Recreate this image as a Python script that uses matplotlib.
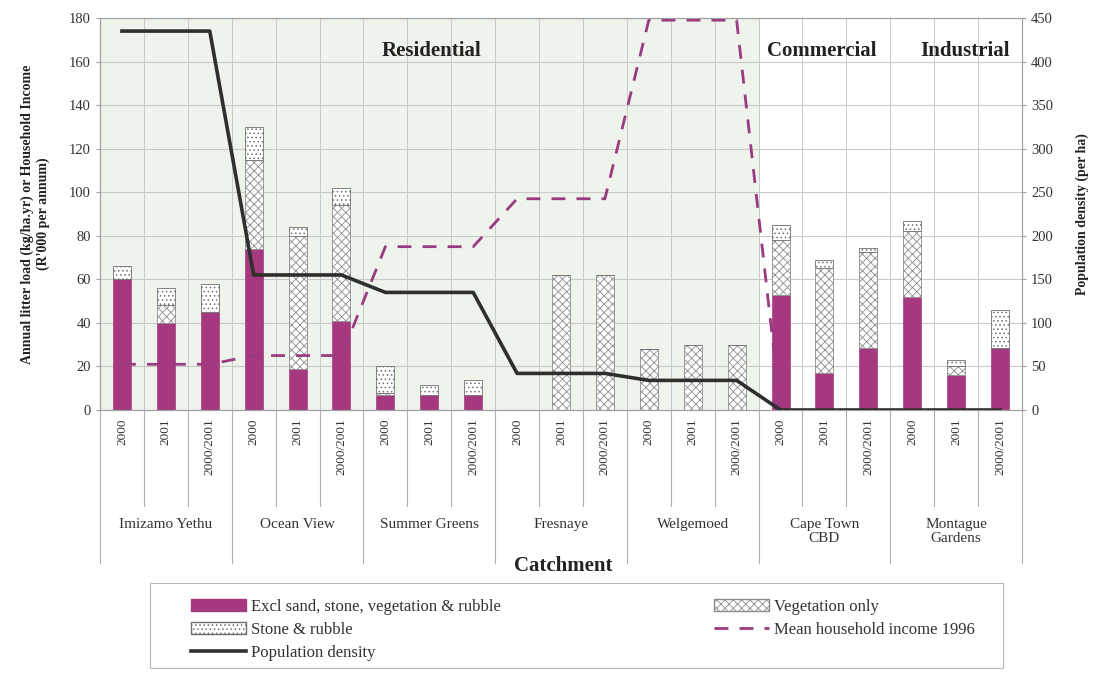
#!/usr/bin/env python3
# -*- coding: utf-8 -*-
"""
Carga anual de basura por cuenca (kg/ha.yr), ingreso medio y densidad de población.
Gráfico de barras apiladas con eje categórico de dos niveles (año / cuenca).
"""

import numpy as np
import matplotlib
matplotlib.use("Agg")
import matplotlib.pyplot as plt
from matplotlib.lines import Line2D
from matplotlib.patches import Patch, Rectangle

plt.rcParams.update({
    "font.family": ["Liberation Serif", "DejaVu Serif"],
    "font.size": 10.5,
    "hatch.linewidth": 0.6,
})

# =============================================================================
# DATOS
# =============================================================================
catchments = ["Imizamo Yethu", "Ocean View", "Summer Greens", "Fresnaye",
              "Welgemoed", "Cape Town\nCBD", "Montague\nGardens"]
years = ["2000", "2001", "2000/2001"]

excl = [60, 40, 45, 74, 19, 41, 7, 7, 7, 0, 0, 0, 0, 0, 0,
        53, 17, 28.5, 52, 16, 28.5]
vegetation = [0, 8, 0, 41, 61, 53, 1, 0, 0, 0, 62, 62, 28, 30, 30,
              25, 48, 44, 30, 4, 0]
stone = [6, 8, 13, 15, 4, 8, 12, 4.5, 7, 0, 0, 0, 0, 0, 0,
         7, 4, 2, 5, 3, 17.5]
income_1996 = [21, 21, 21, 25, 25, 25, 75, 75, 75, 97, 97, 97, 179, 179, 179,
               0, np.nan, np.nan, np.nan, np.nan, np.nan]
pop_density = [435, 435, 435, 155, 155, 155, 135, 135, 135, 42, 42, 42,
               34, 34, 34, 0, 0, 0, 0, 0, 0]

# =============================================================================
# ESTILO
# =============================================================================
MAGENTA = "#a6387f"
GRID = "#c9c9c9"
HATCH_GREY = "#8c8c8c"

fig = plt.figure(figsize=(10.96, 6.73), dpi=100)
ax = fig.add_axes([100 / 1096, 1 - 410 / 673, 922 / 1096, 392 / 673])
ax2 = ax.twinx()

n = len(excl)
x = np.arange(n)
excl = np.array(excl)
vegetation = np.array(vegetation)
stone = np.array(stone)

# fondo zona residencial
ax.axvspan(-0.5, 14.5, color="#eef3eb", zorder=-2, lw=0)

# rejilla
for yv in range(20, 181, 20):
    ax.axhline(yv, color=GRID, lw=0.8, zorder=0)
for b in np.arange(0.5, n - 0.5, 1.0):
    ax.axvline(b, color=GRID, lw=0.7, zorder=0)

w = 0.41
ax.bar(x, excl, w, color=MAGENTA, edgecolor=MAGENTA, lw=0.5, zorder=2)
ax.bar(x, vegetation, w, bottom=excl, facecolor="white", edgecolor=HATCH_GREY,
       hatch="xxxx", lw=0.6, zorder=2)
ax.bar(x, stone, w, bottom=excl + vegetation, facecolor="white",
       edgecolor="#6f6f6f", hatch="....", lw=0.6, zorder=2)

ax.plot(x, income_1996, color="#9a3a80", lw=2, dashes=(5, 4), zorder=3)
ax2.plot(x, pop_density, color="#2f2f2f", lw=2.6, zorder=4)

ax.set_xlim(-0.5, n - 0.5)
ax.set_ylim(0, 180)
ax.set_yticks(range(0, 181, 20))
ax2.set_ylim(0, 450)
ax2.set_yticks(range(0, 451, 50))

for a in (ax, ax2):
    for s in a.spines.values():
        s.set_color("#a0a0a0")
        s.set_linewidth(0.8)
    a.tick_params(axis="y", length=3, color="#a0a0a0", labelsize=10.5,
                  labelcolor="#333333")

# eje x de dos niveles
ax.set_xticks(x)
ax.set_xticklabels(years * len(catchments), rotation=90, fontsize=9.5,
                   color="#333333", va="top")
ax.tick_params(axis="x", length=0, pad=6)

trans = ax.get_xaxis_transform()
for i in range(n + 1):
    b = i - 0.5
    y_end = -0.39 if i % 3 == 0 else -0.245
    ax.add_line(Line2D([b, b], [0, y_end], transform=trans, color="#b0b0b0",
                       lw=0.8, clip_on=False))
for k, name in enumerate(catchments):
    ax.text(3 * k + 1, -0.275, name, transform=trans, ha="center", va="top",
            fontsize=11, color="#333333", linespacing=1.1)

fig.text(563 / 1096, 1 - 566 / 673, "Catchment", ha="center", va="center",
         fontsize=15, fontweight="bold", color="#222222")

# etiquetas de zona
ax.text(7.05, 165, "Residential", ha="center", va="center", fontsize=15,
        fontweight="bold", color="#222222", zorder=5)
ax.text(15.95, 165, "Commercial", ha="center", va="center", fontsize=15,
        fontweight="bold", color="#222222", zorder=5)
ax.text(19.2, 165, "Industrial", ha="center", va="center", fontsize=15,
        fontweight="bold", color="#222222", zorder=5)

ax.set_ylabel("Annual litter load (kg/ha.yr) or Household Income\n(R'000 per annum)",
              fontsize=10, fontweight="bold", color="#222222", labelpad=14)
ax2.set_ylabel("Population density (per ha)", fontsize=10, fontweight="bold",
               color="#222222", labelpad=16)

# leyenda
fig.patches.append(Rectangle((150 / 1096, 1 - 668 / 673), 853 / 1096, 85 / 673,
                             transform=fig.transFigure, fill=False,
                             edgecolor="#b8b8b8", lw=0.8))
handles = [
    Patch(facecolor=MAGENTA, edgecolor=MAGENTA),
    Patch(facecolor="white", edgecolor="#6f6f6f", hatch="...."),
    Line2D([], [], color="#2f2f2f", lw=2.6),
    Patch(facecolor="white", edgecolor=HATCH_GREY, hatch="xxxx"),
    Line2D([], [], color="#9a3a80", lw=2, dashes=(5, 4)),
]
labels = ["Excl sand, stone, vegetation & rubble", "Stone & rubble",
          "Population density", "Vegetation only", "Mean household income 1996"]
fig.legend(handles, labels, ncol=2, loc="upper left", frameon=False,
           bbox_to_anchor=(176 / 1096, 1 - 584 / 673), fontsize=12,
           handlelength=3.3, handleheight=0.75, handletextpad=0.3,
           labelspacing=0.42, columnspacing=12.8, labelcolor="#333333")

fig.savefig("out.png", dpi=100, facecolor="white")
